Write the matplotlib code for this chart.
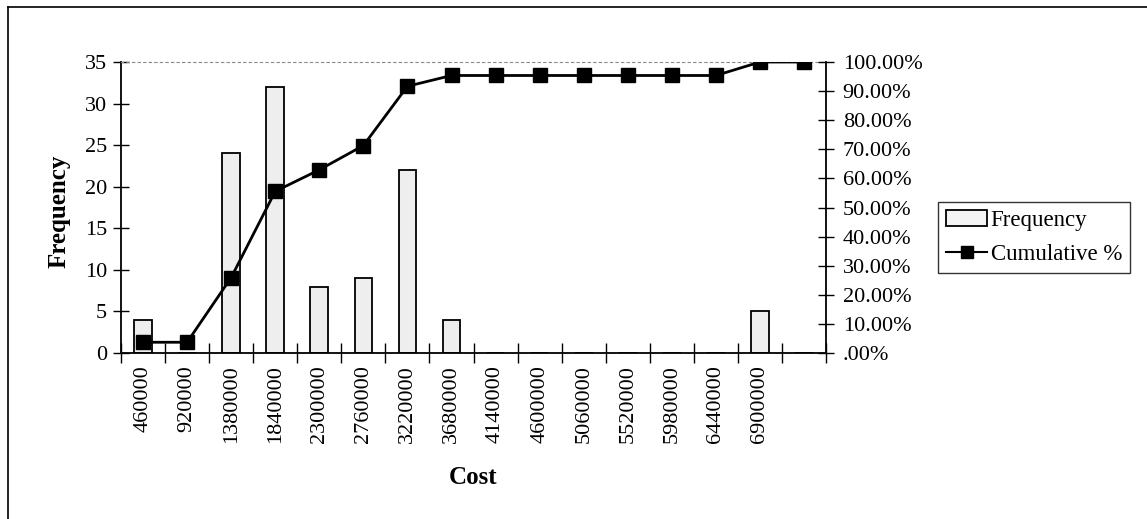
import numpy as np
import matplotlib.pyplot as plt
from matplotlib.lines import Line2D

plt.rcParams['font.family'] = ['Liberation Serif', 'DejaVu Serif']

# data
bins = ['460000', '920000', '1380000', '1840000', '2300000', '2760000',
        '3220000', '3680000', '4140000', '4600000', '5060000', '5520000',
        '5980000', '6440000', '6900000', '']
frequency = [4, 0, 24, 32, 8, 9, 22, 4, 0, 0, 0, 0, 0, 0, 5, 0]
cumulative = [3.70, 3.70, 25.93, 55.56, 62.96, 71.30, 91.67, 95.37,
              95.37, 95.37, 95.37, 95.37, 95.37, 95.37, 100.0, 100.0]
pct_ticks = [0, 10, 20, 30, 40, 50, 60, 70, 80, 90, 100]
pct_labels = ['.00%', '10.00%', '20.00%', '30.00%', '40.00%', '50.00%',
              '60.00%', '70.00%', '80.00%', '90.00%', '100.00%']

fig = plt.figure(figsize=(11.47, 5.19), dpi=100)
ax = fig.add_axes([0.1055, 0.3198, 0.6147, 0.5607])
x = np.arange(len(bins))

ax.bar(x, frequency, width=0.4, color='#eeeeee', edgecolor='black', linewidth=1.3, zorder=2)
ax.set_xlim(-0.5, len(bins) - 0.5)
ax.set_ylim(0, 35)
ax.set_yticks(range(0, 36, 5))
ax.tick_params(axis='y', direction='inout', length=12, width=1, labelsize=16, pad=4)

# ticks between categories, labels at centers
ax.set_xticks(np.arange(-0.5, len(bins)), minor=False)
ax.set_xticklabels([])
ax.set_xticks(x, minor=True)
ax.set_xticklabels(bins, minor=True, rotation=90, fontsize=16)
ax.tick_params(axis='x', which='major', direction='inout', length=14, width=1)
ax.tick_params(axis='x', which='minor', length=0, pad=9)

for s in ['left', 'bottom']:
    ax.spines[s].set_linewidth(1.3)
ax.spines['top'].set_linestyle((0, (2, 3)))
ax.spines['top'].set_color('#888888')
ax.spines['top'].set_linewidth(0.8)
ax.spines['right'].set_visible(False)

ax.set_xlabel('Cost', fontsize=18, fontweight='bold', labelpad=16)
ax.set_ylabel('Frequency', fontsize=18, fontweight='bold')
ax.yaxis.set_label_coords(-0.072, 0.488)

ax2 = ax.twinx()
ax2.plot(x, cumulative, color='black', linewidth=2, marker='s', markersize=10.5, zorder=3)
ax2.set_ylim(0, 100)
ax2.set_yticks(pct_ticks)
ax2.set_yticklabels(pct_labels)
ax2.tick_params(axis='y', direction='inout', length=12, width=1, labelsize=16, pad=6)
ax2.spines['right'].set_linewidth(1.3)
for s in ['top', 'left', 'bottom']:
    ax2.spines[s].set_visible(False)

# legend
h1 = plt.Rectangle((0, 0), 1, 1, facecolor='#f4f4f4', edgecolor='black', linewidth=1.3)
h2 = Line2D([], [], color='black', linewidth=1.5, marker='s', markersize=9)
leg = fig.legend([h1, h2], ['Frequency', 'Cumulative %'], loc='upper left',
                 bbox_to_anchor=(0.8178, 0.6108), fontsize=16.5, fancybox=False,
                 frameon=True, borderpad=0.35, handlelength=1.8, handletextpad=0.15,
                 labelspacing=0.55, borderaxespad=0)
leg.get_frame().set_edgecolor('black')
leg.get_frame().set_linewidth(1)

# outer chart border (top and left only visible)
fig.add_artist(Line2D([0.007, 1.0], [0.986, 0.986], color='black', linewidth=1.2))
fig.add_artist(Line2D([0.007, 0.007], [0.0, 0.986], color='black', linewidth=1.2))

fig.savefig('out.png', dpi=100)
